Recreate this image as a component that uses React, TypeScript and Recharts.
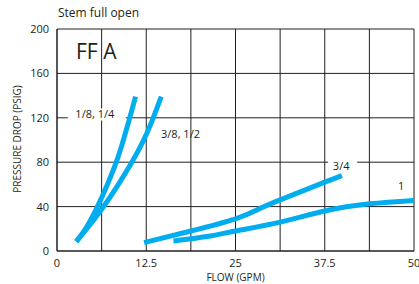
import React from 'react';
import { LineChart, Line, XAxis, YAxis, CartesianGrid, ReferenceDot } from 'recharts';

// Flow (GPM) vs pressure drop (PSIG)
const curve18 = [
  { x: 2.7, y: 8.5 }, { x: 4.1, y: 21 }, { x: 5.6, y: 39 }, { x: 7, y: 59 },
  { x: 8.3, y: 80 }, { x: 9.25, y: 99 }, { x: 10.15, y: 119 }, { x: 11, y: 139 },
];
const curve38 = [
  { x: 2.7, y: 8.5 }, { x: 4.3, y: 21 }, { x: 6.3, y: 38 }, { x: 8.4, y: 58 },
  { x: 10.4, y: 79 }, { x: 12, y: 98 }, { x: 13.3, y: 117 }, { x: 14.6, y: 139 },
];
const curve34 = [
  { x: 12.2, y: 7.5 }, { x: 18.75, y: 18 }, { x: 25, y: 29 }, { x: 28, y: 37 },
  { x: 31.25, y: 46 }, { x: 37.5, y: 62 }, { x: 39.9, y: 68 },
];
const curve1 = [
  { x: 16.3, y: 9 }, { x: 21, y: 13 }, { x: 25, y: 18 }, { x: 31.25, y: 26 },
  { x: 37.5, y: 36 }, { x: 43.75, y: 42.5 }, { x: 50, y: 45.6 },
];

const xTicks = [0, 6.25, 12.5, 18.75, 25, 31.25, 37.5, 43.75, 50];
const xLabelled = [0, 12.5, 25, 37.5, 50];
const yTicks = [0, 40, 80, 120, 160, 200];

const annotations = [
  { x: 5.3, y: 123, text: '1/8, 1/4', bg: [-27, 31] },
  { x: 17.3, y: 105, text: '3/8, 1/2', bg: null },
  { x: 39.8, y: 76.5, text: '3/4', bg: [-13, 16] },
  { x: 48.2, y: 58.8, text: '1', bg: null },
];

const FONT = '"Open Sans", "Noto Sans", sans-serif';
const INK = '#231f20';
const BLUE = '#00aeef';

const annotLabel = (text: string, bg: number[] | null) => (props: any) => {
  const vb = props.viewBox || {};
  const cx = vb.x + (vb.width || 0) / 2;
  const cy = vb.y + (vb.height || 0) / 2;
  return (
    <g>
      {bg && <rect x={cx + bg[0]} y={cy - 6} width={bg[1] - bg[0]} height={12} fill="#fff" />}
      <text x={cx} y={cy + 4} textAnchor="middle" fontSize={11} fontFamily={FONT} fill={INK}>
        {text}
      </text>
    </g>
  );
};

export default function App() {
  return (
    <div style={{ position: 'absolute', left: 0, top: 0, width: 419, height: 284, background: '#fff' }}>
      <LineChart width={419} height={284} margin={{ top: 29, right: 5, bottom: 0, left: 0 }}>
        <CartesianGrid stroke={INK} strokeWidth={1} />
        <XAxis
          type="number"
          dataKey="x"
          domain={[0, 50]}
          ticks={xTicks}
          interval={0}
          tickFormatter={(v: number) => (xLabelled.includes(v) ? String(v) : '')}
          tickLine={false}
          axisLine={{ stroke: INK }}
          height={33}
          tick={{ fontSize: 11, fontFamily: FONT, fill: INK }}
          label={{ value: 'FLOW (GPM)', position: 'insideBottom', offset: 3, fontSize: 10, fontFamily: FONT, fill: INK }}
        />
        <YAxis
          type="number"
          domain={[0, 200]}
          ticks={yTicks}
          interval={0}
          tickLine={false}
          axisLine={{ stroke: INK }}
          width={57}
          tick={{ fontSize: 11, fontFamily: FONT, fill: INK }}
          label={{
            content: () => (
              <text
                x={18}
                y={139}
                transform="rotate(-90, 18, 139)"
                textAnchor="middle"
                dominantBaseline="middle"
                fontSize={10}
                fontFamily={FONT}
                fill={INK}
              >
                PRESSURE DROP (PSIG)
              </text>
            ),
          }}
        />
        <Line data={curve18} dataKey="y" type="natural" stroke={BLUE} strokeWidth={5} dot={false} isAnimationActive={false} />
        <Line data={curve38} dataKey="y" type="natural" stroke={BLUE} strokeWidth={5} dot={false} isAnimationActive={false} />
        <Line data={curve34} dataKey="y" type="natural" stroke={BLUE} strokeWidth={5} dot={false} isAnimationActive={false} />
        <Line data={curve1} dataKey="y" type="natural" stroke={BLUE} strokeWidth={5} dot={false} isAnimationActive={false} />
        {annotations.map((a) => (
          <ReferenceDot
            key={a.text}
            x={a.x}
            y={a.y}
            r={0}
            fill="none"
            stroke="none"
            label={annotLabel(a.text, a.bg)}
          />
        ))}
      </LineChart>
      <div style={{ position: 'absolute', left: 58, top: 5, fontSize: 12, fontFamily: FONT, color: INK, lineHeight: '16px' }}>
        Stem full open
      </div>
      <div style={{ position: 'absolute', left: 76, top: 38, fontSize: 21, fontFamily: FONT, color: INK, lineHeight: '26px' }}>
        FF A
      </div>
    </div>
  );
}
